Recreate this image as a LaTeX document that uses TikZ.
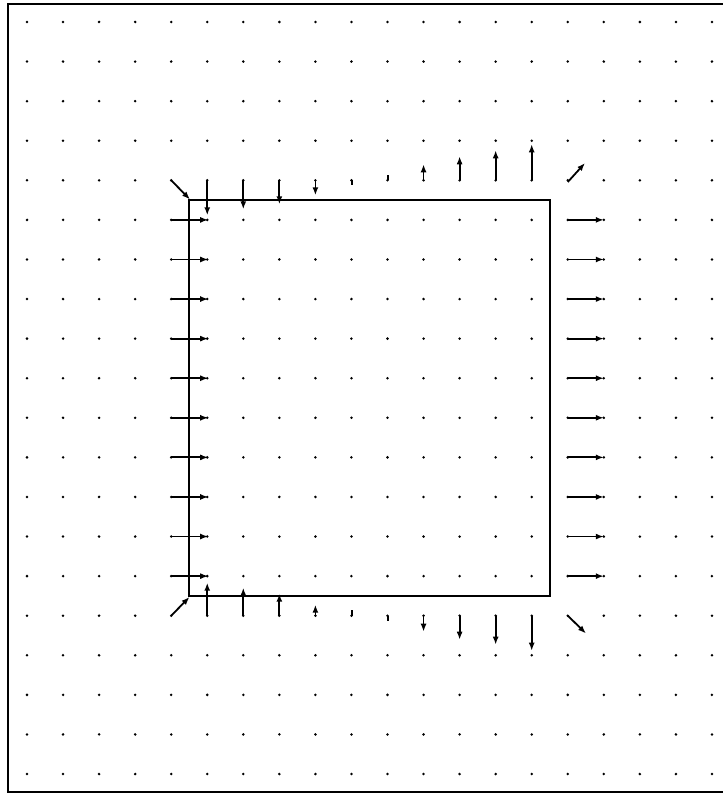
\documentclass[tikz,border=0pt]{standalone}
\usetikzlibrary{arrows.meta}
\begin{document}
\begin{tikzpicture}[x=1pt,y=-1pt,
  vec/.style={line width=1.8pt,-{Latex[length=8pt,width=6pt]}},
  tickmark/.style={line width=2pt},
  gdot/.style={fill=black}]
\useasboundingbox (0,0) rectangle (722,794);
\draw[line width=2pt] (8,4) rectangle (740,792);
% grid of dots
\foreach \i in {0,...,19}{
  \foreach \j in {0,...,19}{
    \fill[gdot] (27+36.05*\i, 22+39.58*\j) circle (1.4pt);
  }
}
% the square
\draw[line width=2.2pt] (189.2,200.1) coordinate (sqA) rectangle (549.7,595.9) coordinate (sqB);
% left and right sides
\foreach \j in {5,...,14}{
  \draw[vec] (171.2,22+39.58*\j) -- ++(37,0);
  \draw[vec] (567.8,22+39.58*\j) -- ++(36,0);
}
% top side
\foreach \i/\d in {5/35,6/29,7/24,8/15,11/-16,12/-24,13/-30,14/-36}{
  \draw[vec] (27+36.05*\i,180.3) -- ++(0,\d);
}
\draw[tickmark] (351.5,180.3) -- ++(0,5);
\draw[tickmark] (387.5,180.3) -- ++(0,-5);
% bottom side
\foreach \i/\d in {5/-33,6/-28,7/-22,8/-11,11/16,12/24,13/29,14/35}{
  \draw[vec] (27+36.05*\i,615.7) -- ++(0,\d);
}
\draw[tickmark] (351.5,615.7) -- ++(0,-6);
\draw[tickmark] (387.5,615.7) -- ++(0,5);
% corners
\draw[vec] (171.2,180.3) -- (190,199.5);
\draw[vec] (567.8,182) -- (585,163);
\draw[vec] (567.8,615.7) -- (586,633.5);
\draw[vec] (171.2,615.7) -- (189.5,597);
\end{tikzpicture}
\end{document}
